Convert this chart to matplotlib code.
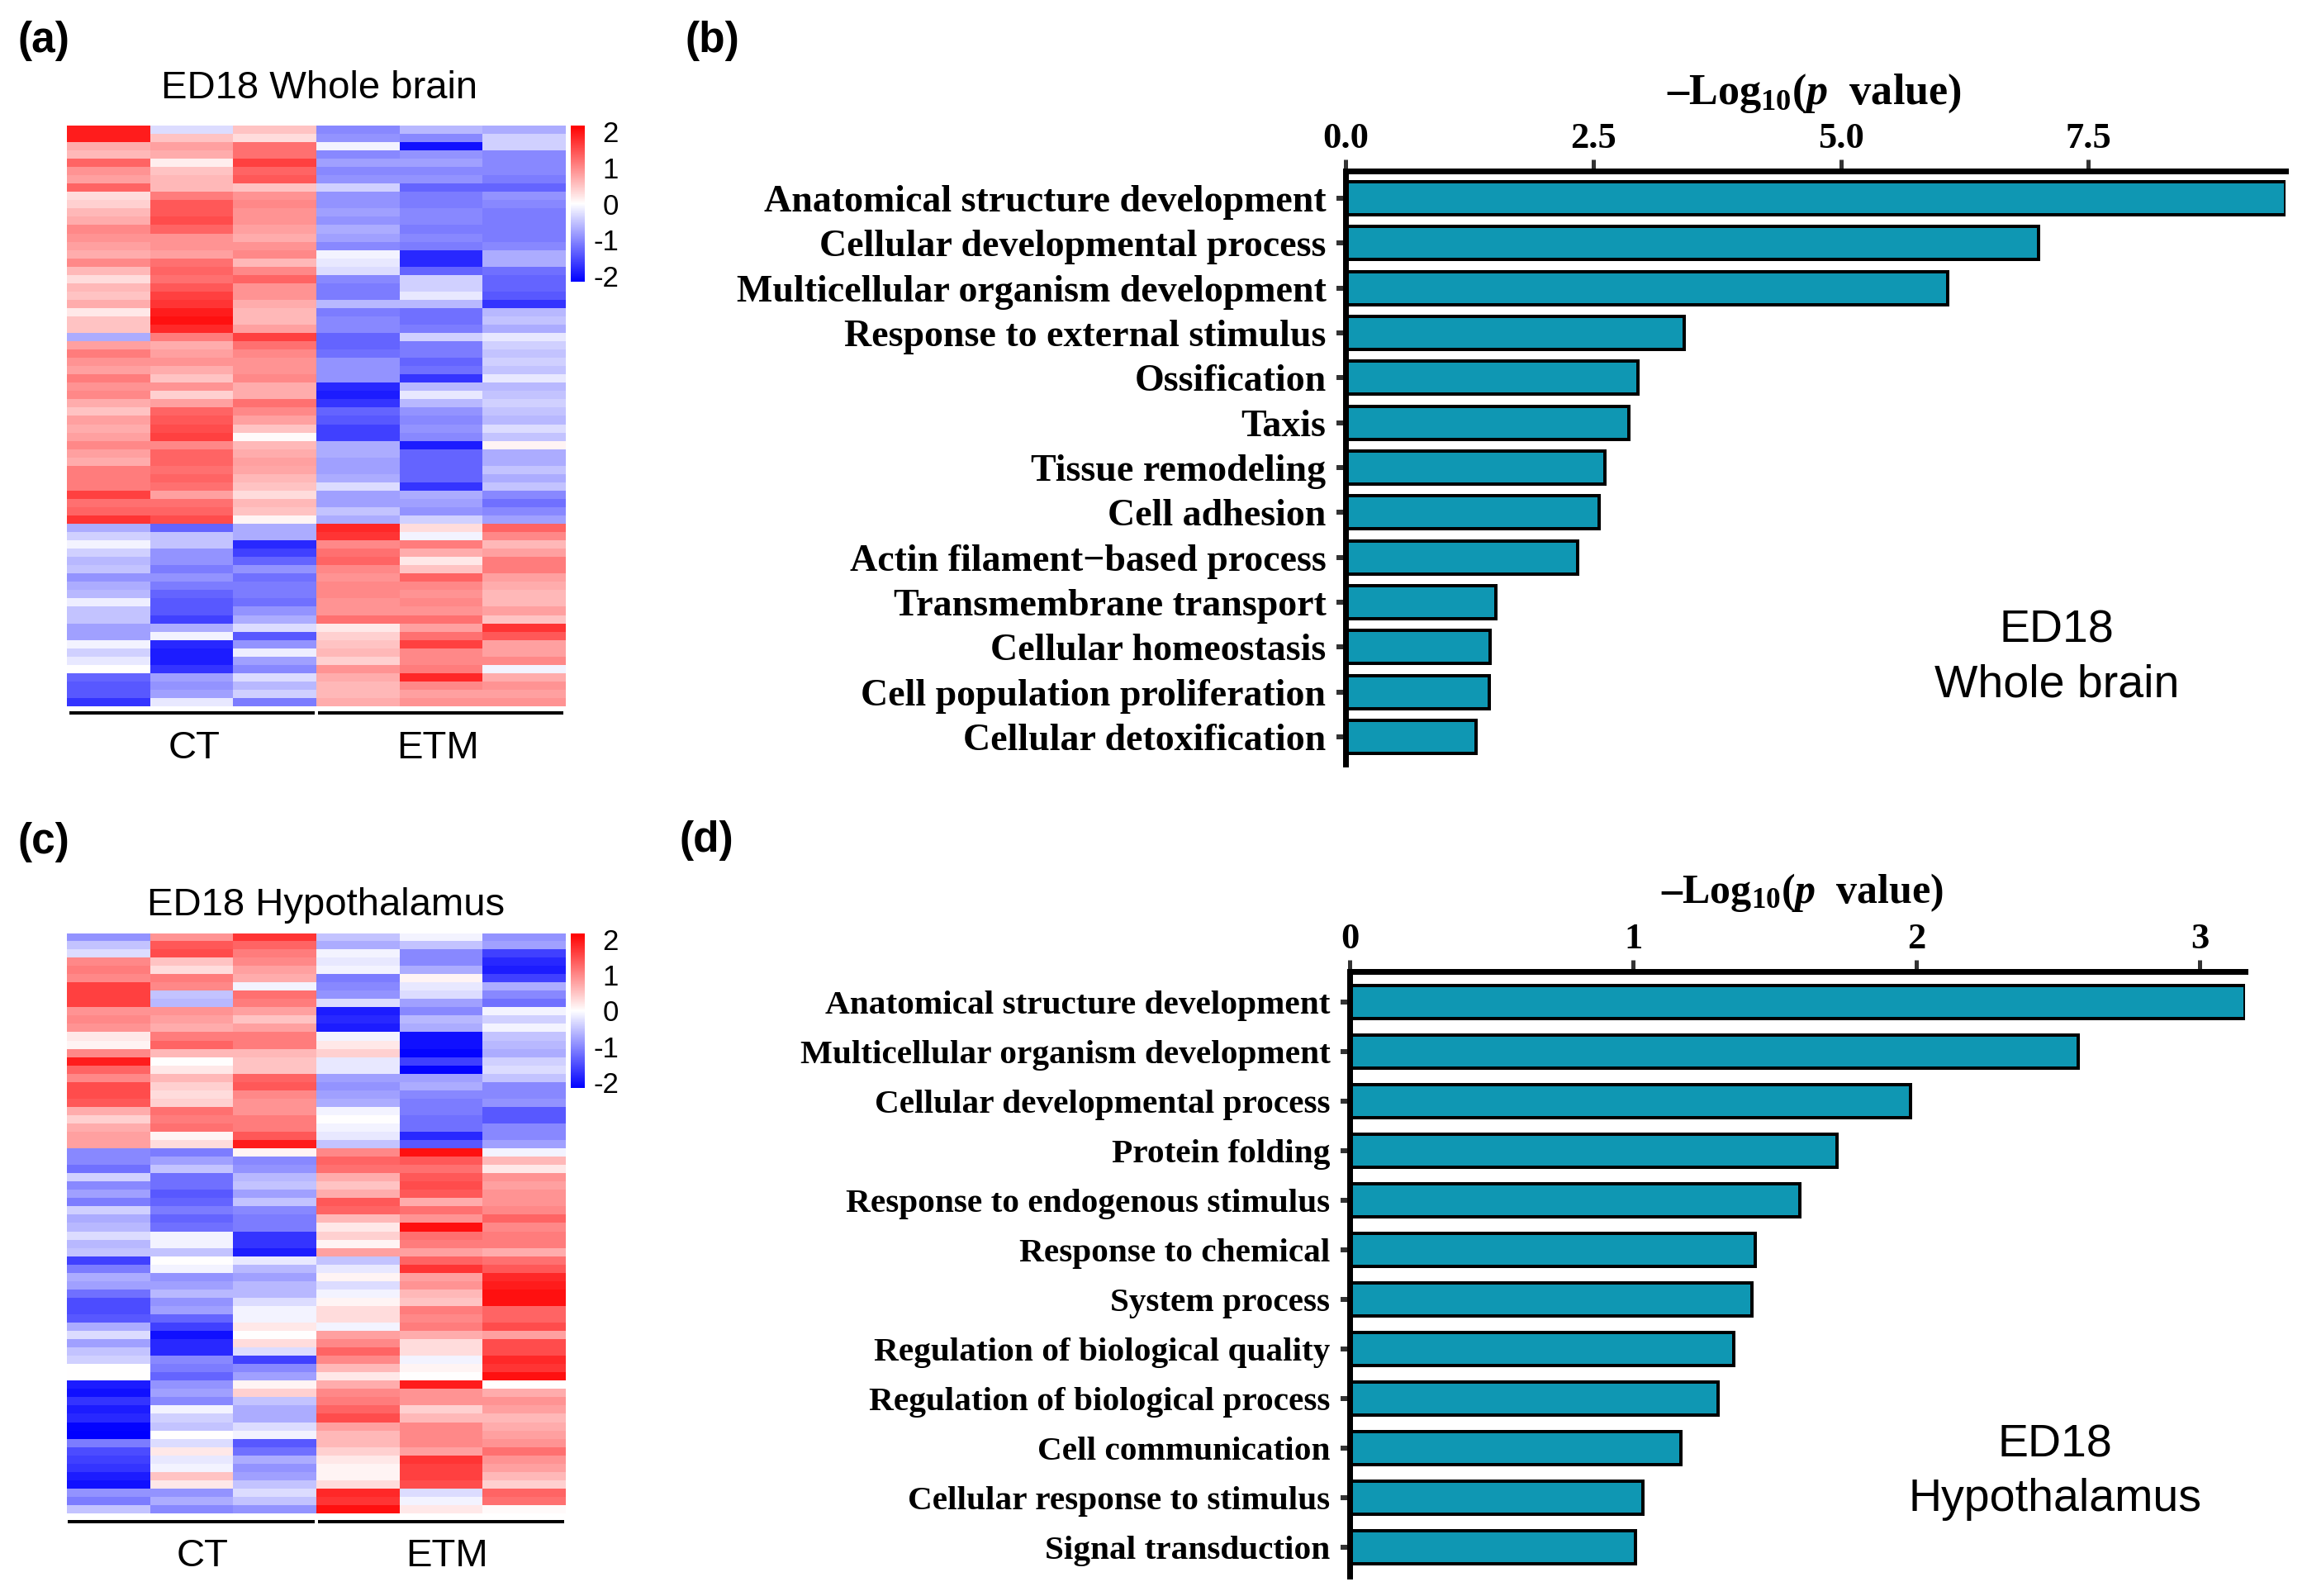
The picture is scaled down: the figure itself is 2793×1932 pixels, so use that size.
import numpy as np
import matplotlib
matplotlib.use("Agg")
import matplotlib.pyplot as plt

W, H = 2793, 1932

# heatmap (a), whole brain, one list per sample, top row first
wb_ct1 = [1.9, 1.9, .7, .6, 1.3, .9, .8, 1.3, .3, .4, .6, .7, 1.0, .9, .8, .7, 1.0, .6, .3, .6, .5, .7, .2, .5, .5, -.7, .8, 1.1, .9, .8, 1.1, .9, 1.0, .7, .5, .8, .7, .8, 1.0, .8, .7, 1.1, 1.1, 1.1, 1.6, 1.2, 1.3, 1.7, -.7, -.4, -.1, -.4, -.6, -.5, -.9, -.7, -.6, -.15, -.5, -.5, -.8, -.8, -.1, -.4, -.2, 0, -1.3, -1.4, -1.4, -1.7]
wb_ct2 = [-.3, .5, .8, .7, .15, .5, .6, .6, 1.1, 1.4, 1.4, 1.5, 1.3, .9, .9, .8, 1.2, 1.3, 1.2, 1.4, 1.6, 1.7, 1.9, 2.0, 1.8, 1.1, .7, .8, .9, .7, .5, .9, .4, .8, 1.3, 1.4, 1.5, 1.6, 1.0, 1.3, 1.3, 1.2, 1.3, 1.2, .8, 1.2, 1.3, 1.5, -1.3, -.5, -.5, -.9, -.9, -1.1, -.9, -1.1, -1.3, -1.4, -1.4, -1.6, -.7, -.1, -1.8, -1.9, -1.9, -1.7, -.8, -.9, -.8, -.2]
wb_ct3 = [.5, .3, 1.2, 1.2, 1.6, 1.3, 1.4, .5, .9, 1.0, .9, .9, .8, .7, .9, 1.0, .6, 1.0, 1.3, .9, .9, .7, .6, .6, .8, 1.6, 1.2, 1.0, .9, .9, 1.0, .7, .7, 1.2, 1.0, .8, .5, .05, .6, .7, .8, .75, .6, .5, .3, .6, .5, .1, -.7, -.7, -1.8, -1.6, -1.3, -.9, -1.2, -1.1, -1.1, -1.2, -.9, -.7, -.3, -1.4, -.9, -.15, -.8, -1.0, -.3, -.6, -.4, -1.1]
wb_etm1 = [-1.0, -.9, -.1, -1.0, -.8, -1.0, -.9, -.4, -.9, -.9, -.8, -.9, -.7, -.8, -1.0, -.1, -.2, -.3, -1.0, -1.1, -1.1, -.6, -1.1, -1.0, -1.0, -1.3, -1.3, -1.2, -.9, -.9, -.9, -1.8, -1.9, -1.7, -1.3, -1.4, -1.6, -1.6, -.7, -.7, -.8, -.8, -.7, -.3, -.8, -.8, -.5, -.7, 1.8, 1.7, 1.0, 1.2, 1.3, 1.0, .9, 1.0, 1.0, .9, .9, 1.2, .2, .4, .5, .6, .4, .9, .7, .6, .6, .7]
wb_etm2 = [-.6, -1.0, -2.0, -.9, -.8, -1.0, -.9, -1.3, -1.1, -1.1, -1.0, -1.0, -1.1, -1.0, -1.1, -1.8, -1.8, -1.3, -.4, -.4, -.2, -.6, -1.2, -1.2, -1.1, -.4, -1.1, -1.1, -1.3, -1.2, -1.7, -.6, -.2, -.6, -.9, -1.0, -.9, -1.0, -1.9, -1.3, -1.3, -1.3, -1.3, -1.7, -.7, -.8, -.9, -.4, .3, -.1, 1.1, .7, .2, .5, 1.3, 1.0, .9, 1.0, .9, 1.2, .8, 1.2, 1.6, 1.0, 1.0, 1.1, 1.8, 1.0, .8, .9]
wb_etm3 = [-.7, -.4, -.4, -1.0, -1.0, -1.0, -1.1, -1.3, -.9, -1.0, -1.1, -1.1, -1.1, -1.1, -1.0, -.7, -.7, -1.2, -1.3, -1.3, -1.4, -1.7, -.6, -.5, -.7, -.2, -.4, -.5, -.4, -.5, -.2, -.6, -.5, -.4, -.5, -.6, -.3, -.5, .1, -.7, -.7, -.5, -.7, -.5, -1.0, -1.2, -1.0, -.8, 1.3, 1.0, .6, .8, 1.1, 1.1, .8, .7, .6, .6, .8, .5, 1.7, 1.4, .8, .8, 1.0, -.1, .7, .9, .8, .9]

# heatmap (c), hypothalamus
hy_ct1 = [-.9, -.5, -.3, 1.0, 1.1, 1.0, 1.6, 1.6, 1.6, .9, 1.0, .9, .2, .1, 1.0, 1.9, 1.3, 1.0, 1.5, 1.5, 1.4, .7, .4, .7, .8, .8, -1.0, -1.0, -1.2, -.4, -1.0, -.8, -1.1, -.4, -.7, -.6, -.3, -.6, -.5, -1.6, -1.1, -.7, -.8, -1.2, -1.5, -1.5, -1.4, -.7, -.3, -.8, -.5, -.4, 0, 0, -1.9, -2.0, -1.7, -1.9, -1.8, -2.1, -2.15, -1.1, -1.5, -1.6, -1.7, -1.9, -2.0, -.9, -1.1, -.5]
hy_ct2 = [.9, 1.4, 1.5, .5, .3, 1.1, 1.0, -.5, -.6, .9, .8, .7, 1.1, 1.3, .6, 0, .2, .6, .4, .3, .4, 1.2, 1.1, 1.2, .1, .3, -1.1, -.8, -.5, -1.2, -1.2, -1.4, -1.3, -1.1, -1.3, -1.2, -.1, -.1, -.5, 0, -.1, -.9, -.8, -.6, -.9, -.8, -1.3, -1.6, -2.0, -1.8, -1.8, -1.0, -1.1, -1.3, -.9, -.8, -1.0, -.1, -.4, -.5, 0, -.3, .2, -.2, -.1, .5, .2, -.9, -.7, -1.0]
hy_ct3 = [1.7, 1.3, 1.1, 1.0, .8, .7, -.1, 1.2, 1.1, .8, .5, .8, 1.1, 1.1, .6, .5, .5, 1.3, 1.4, 1.0, .9, .9, 1.1, 1.1, 1.4, 1.9, .1, -1.0, -.9, -.6, -.5, -.8, -.5, -1.0, -1.1, -1.1, -1.7, -1.7, -1.9, -.2, -.6, -.8, -.6, -.6, -.3, -.1, -.1, .2, 0, .3, -.3, -1.6, -1.0, -.8, .1, .4, -.5, -.7, -.7, -.3, -.1, -1.4, -1.2, -.7, -.9, -.8, -.5, -.3, -.5, -.9]
hy_etm1 = [-.5, -.7, -.1, -.2, -.1, -1.1, -1.0, -.9, -.3, -1.9, -1.8, -1.9, -.1, .2, .4, -.2, -.2, -.8, -.9, -.8, -.7, -.1, 0, -.1, -.2, -.5, 1.0, 1.3, 1.2, .7, .5, .7, 1.4, 1.3, .6, .2, .4, .1, .8, -.5, -.2, .1, -.3, -.1, .1, .3, .3, -.1, .8, 1.0, 1.3, 1.0, .6, .2, .7, 1.0, 1.1, 1.3, 1.5, .8, .6, .6, .4, .2, .1, .1, .3, 1.8, 1.7, 2.0]
hy_etm2 = [-.1, -.5, -1.0, -1.0, -.7, .1, -.2, -.3, -.8, -1.0, -.6, -.7, -2.0, -2.0, -2.1, -1.6, -2.1, -.8, -.7, -1.0, -1.1, -1.1, -1.2, -1.2, -1.8, -1.4, 2.0, 1.4, 1.2, 1.4, 1.5, 1.4, .7, 1.2, .9, 2.0, 1.2, 1.1, .8, 1.3, 1.7, .8, .9, .6, .5, 1.1, 1.0, 1.1, .7, .3, .3, -.1, .1, 0, 1.9, .9, .9, .4, .6, 1.0, 1.0, 1.0, .8, 1.7, 1.6, 1.6, 1.5, -.3, -.1, .2]
hy_etm3 = [-.9, -.8, -1.6, -1.8, -1.9, -1.6, -.7, -1.0, -1.2, -.1, -.4, -.1, -.5, -.6, -.7, -.4, -.3, -.5, -1.0, -1.0, -.9, -1.4, -1.4, -1.0, -1.0, -.8, -.1, .6, .2, .9, .8, .9, .9, 1.0, 1.3, 1.0, 1.1, 1.1, .7, 1.2, 1.4, 1.8, 1.9, 2.0, 2.0, 1.3, 1.3, 1.5, .8, 1.5, 1.5, 1.8, 1.7, 2.0, 0, .7, .9, .8, .6, .7, .8, .9, 1.2, .9, .8, .6, .4, 1.3, 1.2, .05]

cbar_ticks = [2, 1, 0, -1, -2]
cbar_labels = ["2", "1", "0", "-1", "-2"]

# bar panels
wb_terms = ["Anatomical structure development", "Cellular developmental process",
            "Multicellular organism development", "Response to external stimulus",
            "Ossification", "Taxis", "Tissue remodeling", "Cell adhesion",
            "Actin filament\u2212based process", "Transmembrane transport",
            "Cellular homeostasis", "Cell population proliferation", "Cellular detoxification"]
wb_vals = [9.49, 7.0, 6.08, 3.42, 2.95, 2.86, 2.62, 2.56, 2.34, 1.52, 1.46, 1.45, 1.32]
wb_xticks = [0, 2.5, 5.0, 7.5]
wb_xlabels = ["0.0", "2.5", "5.0", "7.5"]

hy_terms = ["Anatomical structure development", "Multicellular organism development",
            "Cellular developmental process", "Protein folding",
            "Response to endogenous stimulus", "Response to chemical", "System process",
            "Regulation of biological quality", "Regulation of biological process",
            "Cell communication", "Cellular response to stimulus", "Signal transduction"]
hy_vals = [3.16, 2.57, 1.98, 1.72, 1.59, 1.43, 1.42, 1.355, 1.30, 1.17, 1.035, 1.01]
hy_xticks = [0, 1, 2, 3]
hy_xlabels = ["0", "1", "2", "3"]

plt.rcParams["font.family"] = ["Liberation Sans", "DejaVu Sans"]
plt.rcParams["mathtext.fontset"] = "custom"
plt.rcParams["mathtext.rm"] = "Liberation Serif:bold"
plt.rcParams["mathtext.it"] = "Liberation Serif:italic:bold"
plt.rcParams["mathtext.bf"] = "Liberation Serif:bold"
plt.rcParams["axes.unicode_minus"] = False

SERIF = ["Liberation Serif", "DejaVu Serif"]
PX = 72 / 100  # points per pixel at dpi 100

fig = plt.figure(figsize=(W / 100, H / 100), dpi=100, facecolor="white")


def axes_px(x0, y0, x1, y1):
    return fig.add_axes([x0 / W, 1 - y1 / H, (x1 - x0) / W, (y1 - y0) / H])


def put(x, y, s, **kw):
    kw.setdefault("ha", "center")
    kw.setdefault("va", "center")
    return fig.text(x / W, 1 - y / H, s, **kw)


def draw_heatmap(columns, box, cbar_box, title, title_xy, ct_x, etm_x, label_y, line_y, line_spans):
    x0, y0, x1, y1 = box
    ax = axes_px(x0, y0, x1, y1)
    data = np.array(columns).T
    im = ax.imshow(data, cmap="bwr", vmin=-2.15, vmax=2.15, aspect="auto", interpolation="nearest")
    ax.axis("off")

    cax = axes_px(*cbar_box)
    cb = fig.colorbar(im, cax=cax)
    cb.outline.set_visible(False)
    cb.set_ticks(cbar_ticks)
    cb.set_ticklabels(cbar_labels)
    cax.tick_params(length=0, pad=41 * PX, labelsize=25)
    for t in cax.get_yticklabels():
        t.set_ha("right")

    put(title_xy[0], title_xy[1], title, fontsize=34)
    put(ct_x, label_y, "CT", fontsize=34)
    put(etm_x, label_y, "ETM", fontsize=34)
    for a, b in line_spans:
        fig.add_artist(plt.Line2D([a / W, b / W], [1 - line_y / H, 1 - line_y / H],
                                  color="black", lw=4 * PX, solid_capstyle="butt"))


def draw_bars(terms, vals, xticks, xlabels, box, x_max, first_y, pitch, label_size, label_pad):
    x0, y0, x1, y1 = box
    ax = axes_px(x0, y0, x1, y1)
    pos = np.arange(len(terms))
    ax.barh(pos, vals, height=40 / pitch, color="#0f97b3", edgecolor="black", linewidth=4 * PX)
    ax.set_xlim(0, x_max)
    ax.set_ylim((y1 - first_y) / pitch, (y0 - first_y) / pitch)
    ax.xaxis.tick_top()
    ax.set_xticks(xticks)
    ax.set_xticklabels(xlabels, family=SERIF, fontweight="bold", fontsize=32)
    ax.set_yticks(pos)
    ax.set_yticklabels(terms, family=SERIF, fontweight="bold", fontsize=label_size)
    ax.tick_params(axis="x", length=14 * PX, width=5 * PX, color="#333333", pad=3.5)
    ax.tick_params(axis="y", length=11 * PX, width=6 * PX, color="#333333", pad=label_pad)
    ax.spines["right"].set_visible(False)
    ax.spines["bottom"].set_visible(False)
    ax.spines["top"].set_linewidth(7 * PX)
    ax.spines["left"].set_linewidth(7 * PX)
    ax.patch.set_alpha(0)


draw_heatmap([wb_ct1, wb_ct2, wb_ct3, wb_etm1, wb_etm2, wb_etm3], (81, 152, 684, 855), (691, 152, 708, 341),
             "ED18 Whole brain", (387, 107), 235, 530, 906, 863, [(84, 381), (385, 682)])
draw_heatmap([hy_ct1, hy_ct2, hy_ct3, hy_etm1, hy_etm2, hy_etm3], (81, 1130, 684, 1832), (691, 1130, 708, 1317),
             "ED18 Hypothalamus", (395, 1096), 245, 541, 1884, 1842, [(82, 381), (385, 683)])

draw_bars(wb_terms, wb_vals, wb_xticks, wb_xlabels, (1629, 207, 2767, 925), 9.49, 240, 54.33, 33, 9)
draw_bars(hy_terms, hy_vals, hy_xticks, hy_xlabels, (1634, 1176, 2718, 1908), 3.16, 1213, 60, 29.7, 9)

put(2196, 113, "\u2013Log$_{10}$($\\mathit{p}$  value)", fontsize=37.5, family=SERIF, fontweight="bold")
put(2182, 1081, "\u2013Log$_{10}$($\\mathit{p}$  value)", fontsize=36, family=SERIF, fontweight="bold")

put(2490, 764, "ED18", fontsize=40)
put(2490, 829, "Whole brain", fontsize=40)
put(2488, 1750, "ED18", fontsize=40)
put(2488, 1815, "Hypothalamus", fontsize=40)

put(53, 50, "(a)", fontsize=37, fontweight="bold")
put(862, 50, "(b)", fontsize=37, fontweight="bold")
put(53, 1020, "(c)", fontsize=37, fontweight="bold")
put(855, 1017, "(d)", fontsize=37, fontweight="bold")

fig.savefig("out.png", dpi=100)
